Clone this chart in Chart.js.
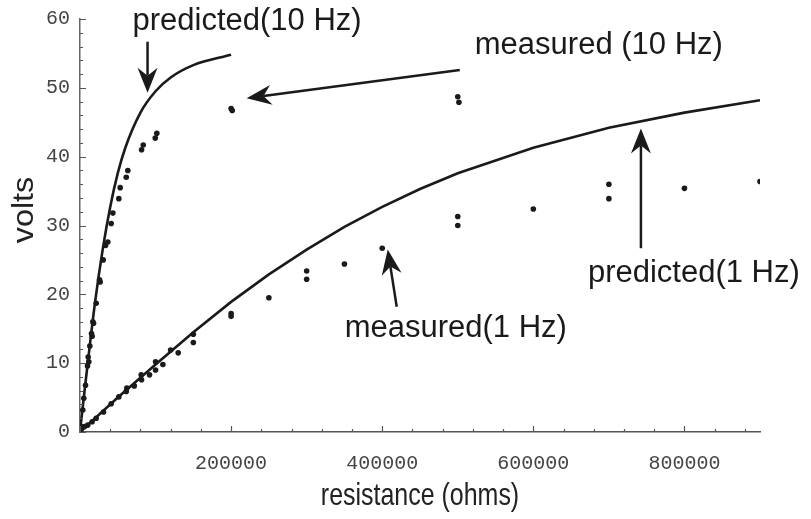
<!DOCTYPE html>
<html>
<head>
<meta charset="utf-8">
<script src="https://cdn.jsdelivr.net/npm/chart.js@4/dist/chart.umd.min.js"></script>
<style>
  html, body { margin: 0; padding: 0; background: #fff; }
  #wrap { width: 811px; height: 519px; position: relative; }
</style>
</head>
<body>
<div id="wrap"><canvas id="chart"></canvas></div>
<script>
// Predicted curves (resistance in ohms, volts)
const pred10Ohms = [0, 5000, 10000, 20000, 30000, 40000, 50000, 60000, 80000, 100000, 120000, 150000, 200000];
const pred10Volts = [0, 5.0, 9.8, 18.9, 26.5, 32.7, 37.6, 41.3, 46.4, 49.5, 51.5, 53.3, 54.8];

const pred1Ohms = [0, 50000, 100000, 150000, 200000, 250000, 300000, 350000, 400000, 450000, 500000, 600000, 700000, 800000, 900000];
const pred1Volts = [0, 5.0, 9.8, 14.5, 18.9, 22.9, 26.5, 29.8, 32.7, 35.3, 37.6, 41.3, 44.2, 46.4, 48.2];

// Measured points
const meas10Ohms = [700, 1500, 3700, 5000, 7300, 9900, 10800, 11700, 13000, 15200, 16100, 17000, 17900, 21400,
  25800, 26700, 30700, 33800, 36800, 41300, 43500, 51400, 53200, 61200, 63300, 81500, 83700, 99600, 101700,
  200000, 201500, 500000, 501500];
const meas10Volts = [0.3, 0.8, 3.2, 4.9, 6.8, 9.6, 10.9, 10.2, 12.5, 14.3, 13.9, 16.0, 15.8, 18.7,
  22.1, 21.8, 25.0, 27.1, 27.6, 30.3, 31.8, 33.9, 35.5, 37.0, 38.0, 41.0, 41.7, 42.7, 43.4,
  47.0, 46.7, 48.7, 47.9];

const meas1Ohms = [1500, 6000, 10300, 16100, 21400, 31100, 41300, 51400, 61200, 62000, 71800, 81000, 81500, 92000,
  100000, 100000, 109700, 119900, 130000, 150000, 150000, 200000, 200000, 250000, 300000, 300000, 350000, 400000,
  500000, 500000, 600000, 700000, 700000, 800000, 900000];
const meas1Volts = [0.4, 0.8, 1.0, 1.5, 2.0, 2.9, 4.1, 5.1, 5.9, 6.4, 6.7, 8.3, 7.6, 8.3,
  9.0, 10.2, 9.8, 11.9, 11.5, 14.2, 13.0, 17.2, 16.8, 19.5, 23.4, 22.2, 24.4, 26.7,
  31.3, 30.0, 32.4, 36.0, 33.9, 35.4, 36.4];

// Axis ticks
const xTickValues = [0, 200000, 400000, 600000, 800000];
const yTickValues = [0, 10, 20, 30, 40, 50, 60];

// Callout labels with arrows, anchored in data units
const callouts = [
  { text: 'predicted(10 Hz)', at: [69500, 58.4], from: [89400, 56.7], to: [89400, 49.3] },
  { text: 'measured (10 Hz)', at: [522500, 54.9], from: [502600, 52.6], to: [220500, 48.5] },
  { text: 'measured(1 Hz)', at: [350300, 13.8], from: [419200, 18.2], to: [407300, 26.5] },
  { text: 'predicted(1 Hz)', at: [672200, 21.8], from: [742400, 26.7], to: [742400, 44.1] }
];

const pts = (xs, ys) => xs.map((x, i) => ({ x: x, y: ys[i] }));

function drawArrow(ctx, x1, y1, x2, y2) {
  const a = Math.atan2(y2 - y1, x2 - x1);
  const c = Math.cos(a), s = Math.sin(a);
  const len = 25, half = 10, notch = 17;
  ctx.beginPath();
  ctx.moveTo(x1, y1);
  ctx.lineTo(x2 - notch * c, y2 - notch * s);
  ctx.stroke();
  ctx.beginPath();
  ctx.moveTo(x2, y2);
  ctx.lineTo(x2 - len * c + half * s, y2 - len * s - half * c);
  ctx.lineTo(x2 - notch * c, y2 - notch * s);
  ctx.lineTo(x2 - len * c - half * s, y2 - len * s + half * c);
  ctx.closePath();
  ctx.fill();
}

const overlay = {
  id: 'overlay',
  afterDraw(chart) {
    const { ctx, chartArea, scales } = chart;
    const x = scales.x, y = scales.y;
    ctx.save();

    // inward tick marks, Mathematica style
    ctx.strokeStyle = '#555';
    ctx.lineWidth = 1.2;
    ctx.beginPath();
    for (let v = 0; v <= 60; v += 2) {
      const py = Math.round(y.getPixelForValue(v)) + 0.5;
      ctx.moveTo(chartArea.left, py);
      ctx.lineTo(chartArea.left + (v % 10 === 0 ? 6 : 3), py);
    }
    for (let v = 0; v <= 880000; v += 40000) {
      const px = Math.round(x.getPixelForValue(v)) + 0.5;
      ctx.moveTo(px, chartArea.bottom);
      ctx.lineTo(px, chartArea.bottom - (v % 200000 === 0 ? 6 : 3));
    }
    ctx.stroke();

    // axis titles
    ctx.fillStyle = '#222';
    ctx.textBaseline = 'alphabetic';
    ctx.textAlign = 'center';
    ctx.save();
    ctx.translate((chartArea.left + chartArea.right) / 2, 505);
    ctx.scale(0.78, 1);
    ctx.font = '32px "Liberation Sans", Arial, sans-serif';
    ctx.fillText('resistance (ohms)', 0, 0);
    ctx.restore();

    ctx.save();
    ctx.translate(33, 210);
    ctx.rotate(-Math.PI / 2);
    ctx.scale(1.08, 1);
    ctx.font = '30px "Liberation Sans", Arial, sans-serif';
    ctx.fillText('volts', 0, 0);
    ctx.restore();

    // callouts
    ctx.font = '31px "Liberation Sans", Arial, sans-serif';
    ctx.textAlign = 'left';
    ctx.strokeStyle = '#1a1a1a';
    ctx.fillStyle = '#1a1a1a';
    ctx.lineWidth = 2.5;
    callouts.forEach(c => {
      ctx.fillText(c.text, x.getPixelForValue(c.at[0]), y.getPixelForValue(c.at[1]));
      drawArrow(ctx,
        x.getPixelForValue(c.from[0]), y.getPixelForValue(c.from[1]),
        x.getPixelForValue(c.to[0]), y.getPixelForValue(c.to[1]));
    });
    ctx.restore();
  }
};

const tickFont = { family: '"Liberation Mono", "Courier New", monospace', size: 20 };

new Chart(document.getElementById('chart'), {
  type: 'scatter',
  data: {
    datasets: [
      {
        label: 'predicted (10 Hz)',
        data: pts(pred10Ohms, pred10Volts),
        showLine: true,
        borderColor: '#1a1a1a',
        borderWidth: 2.6,
        pointRadius: 0,
        cubicInterpolationMode: 'monotone'
      },
      {
        label: 'predicted (1 Hz)',
        data: pts(pred1Ohms, pred1Volts),
        showLine: true,
        borderColor: '#1a1a1a',
        borderWidth: 2.6,
        pointRadius: 0
      },
      {
        label: 'measured (10 Hz)',
        data: pts(meas10Ohms, meas10Volts),
        backgroundColor: '#1a1a1a',
        borderWidth: 0,
        pointRadius: 2.8
      },
      {
        label: 'measured (1 Hz)',
        data: pts(meas1Ohms, meas1Volts),
        backgroundColor: '#1a1a1a',
        borderWidth: 0,
        pointRadius: 2.8
      }
    ]
  },
  options: {
    responsive: true,
    maintainAspectRatio: false,
    animation: false,
    layout: { padding: { top: 19, right: 51, bottom: 0, left: 0 } },
    plugins: {
      legend: { display: false },
      tooltip: { enabled: false }
    },
    scales: {
      x: {
        type: 'linear',
        min: 0,
        max: 900000,
        grid: { display: false },
        border: { display: true, color: '#555', width: 1.5 },
        afterBuildTicks: axis => { axis.ticks = xTickValues.map(v => ({ value: v })); },
        afterFit: axis => { axis.height = 87; },
        ticks: {
          padding: 12,
          maxRotation: 0,
          color: '#444',
          font: tickFont,
          callback: v => (v === 0 ? '' : String(v))
        }
      },
      y: {
        type: 'linear',
        min: 0,
        max: 60,
        grid: { display: false },
        border: { display: true, color: '#666', width: 1.5 },
        afterBuildTicks: axis => { axis.ticks = yTickValues.map(v => ({ value: v })); },
        afterFit: axis => { axis.width = 80; },
        ticks: {
          padding: 2,
          color: '#444',
          font: tickFont,
          callback: v => String(v)
        }
      }
    }
  },
  plugins: [overlay]
});
</script>
</body>
</html>
